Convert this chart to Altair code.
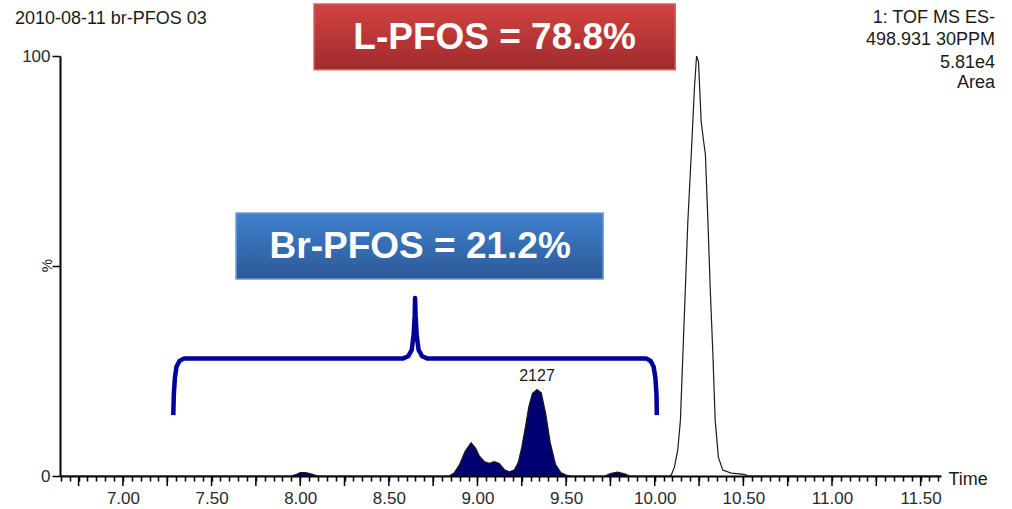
import altair as alt
import pandas as pd

# ---------------- data ----------------
times = [6.645, 7.95, 7.98, 8.00, 8.03, 8.06, 8.10, 8.84, 8.87, 8.90, 8.93, 8.964, 8.99,
         9.01, 9.04, 9.067, 9.095, 9.123, 9.152, 9.18, 9.208, 9.23, 9.25, 9.27, 9.29, 9.31,
         9.336, 9.36, 9.385, 9.41, 9.44, 9.47, 9.50, 9.53, 9.72, 9.75, 9.79, 9.83, 9.86,
         10.08, 10.093, 10.111, 10.130, 10.145, 10.159, 10.173, 10.187, 10.206, 10.224,
         10.236, 10.247, 10.262, 10.275, 10.286, 10.300, 10.313, 10.328, 10.341, 10.359,
         10.384, 10.431, 10.505, 10.53, 11.615]
intensity = [0, 0, 0.4, 0.8, 0.8, 0.5, 0, 0, 0.8, 2.8, 5.8, 7.9, 6.6,
             4.8, 3.4, 3.0, 3.4, 3.0, 1.5, 1.0, 1.4, 3.2, 6.8, 11.5, 16.5, 19.6,
             20.6, 19.8, 14.8, 8.0, 2.8, 0.8, 0.2, 0, 0, 0.6, 0.9, 0.5, 0,
             0, 0.2, 2.1, 6.2, 13.3, 29.1, 44.8, 60.7, 76.5, 92.3,
             100, 98.6, 84.4, 80.0, 76.5, 60.7, 44.8, 29.1, 13.3, 4.5,
             1.4, 0.7, 0.4, 0, 0]
branched_end = 10.0  # branched isomers (filled) elute before this time

peak_label_time = [9.336]
peak_label_value = [20.6]
peak_label_text = ["2127"]

# brace under the branched-isomer box (time, %)
brace_t = [7.284, 7.287, 7.293, 7.302, 7.319, 7.345, 8.581, 8.609, 8.629, 8.640, 8.646,
           8.648, 8.651, 8.657, 8.668, 8.688, 8.716, 9.952, 9.977, 9.994, 10.004, 10.010, 10.012]
brace_v = [14.5, 19.3, 23.3, 26.0, 27.4, 28.0, 28.0, 28.5, 30.0, 33.6, 38.3,
           42.4, 38.3, 33.6, 30.0, 28.5, 28.0, 28.0, 27.4, 26.0, 23.3, 19.3, 14.5]

# annotation boxes (time, %)
box_labels = ["L-PFOS = 78.8%", "Br-PFOS = 21.2%"]
box_t1 = [8.078, 7.638]
box_t2 = [10.116, 9.709]
box_v1 = [112.4, 62.6]
box_v2 = [96.7, 46.9]
box_tc = [9.097, 8.677]
box_vc = [104.3, 54.5]

header_left = ["2010-08-11 br-PFOS 03"]
header_right = ["1: TOF MS ES-", "498.931 30PPM", "5.81e4", "Area"]
header_right_v = [109.0, 103.8, 98.3, 93.6]  # line positions in % units

x_ticks = [round(6.65 + 0.05 * i, 2) for i in range(100)]
x_long_ticks = [round(6.75 + 0.25 * i, 2) for i in range(20)]
y_ticks = [0, 50, 100]

# ---------------- tables ----------------
trace = pd.DataFrame({"t": times, "v": intensity})
trace["fill"] = [v if t < branched_end else 0 for t, v in zip(times, intensity)]
peak_lab = pd.DataFrame({"t": peak_label_time, "v": peak_label_value, "txt": peak_label_text})
brace = pd.DataFrame({"t": brace_t, "v": brace_v, "o": list(range(len(brace_t)))})
boxes = pd.DataFrame({"label": box_labels, "t1": box_t1, "t2": box_t2,
                      "v1": box_v1, "v2": box_v2, "tc": box_tc, "vc": box_vc})
hl = pd.DataFrame({"txt": header_left})
hr = pd.DataFrame({"txt": header_right, "v": header_right_v})
longt = pd.DataFrame({"t": x_long_ticks})

FONT = "Liberation Sans"
xs = alt.Scale(domain=[6.645, 11.615], nice=False, zero=False)
ys = alt.Scale(domain=[0, 100], nice=False, zero=False)

x_axis = alt.Axis(
    values=x_ticks, title="Time", titleX=888, titleY=3, titleAlign="left",
    titleBaseline="middle", titleFontSize=18, titleFontWeight="normal",
    titleColor="#1a1a1a", titleFont=FONT,
    labelExpr="abs(datum.value*2 - round(datum.value*2)) < 0.001 ? format(datum.value, '.2f') : ''",
    labelOverlap=False,
    labelFontSize=17, labelFont=FONT, labelColor="#2a2a2a", labelPadding=9,
    tickSize=5, tickColor="black", tickWidth=1.5, domainColor="black", domainWidth=2, grid=False,
)
y_axis = alt.Axis(
    values=y_ticks, title="%", titleAngle=270, titleX=-14, titleY=209,
    titleAlign="center", titleBaseline="middle", titleFontSize=15,
    titleFontWeight="normal", titleColor="#1a1a1a", titleFont=FONT,
    labelExpr="datum.value == 50 ? '' : datum.label",
    labelFontSize=17, labelFont=FONT, labelColor="#2a2a2a", labelPadding=2,
    tickSize=8, tickColor="black", tickWidth=1.5, domainColor="black", domainWidth=2,
    grid=False,
)


def X(f):
    return alt.X(f, scale=xs, axis=x_axis)


def Y(f):
    return alt.Y(f, scale=ys, axis=y_axis)


filled = alt.Chart(trace).mark_area(color="#000070", interpolate="linear").encode(
    x=X("t:Q"), y=alt.Y("fill:Q", scale=ys, axis=y_axis, stack=None),
)
line = alt.Chart(trace).mark_line(color="#1a1a1a", strokeWidth=1.2).encode(
    x=X("t:Q"), y=Y("v:Q"),
)
long_ticks = alt.Chart(longt).mark_rule(color="black", strokeWidth=1.5).encode(
    x=X("t:Q"), y=alt.value(420), y2=alt.value(430),
)
plabel = alt.Chart(peak_lab).mark_text(font=FONT, fontSize=16, color="#1a1a1a", dy=-13).encode(
    x=X("t:Q"), y=Y("v:Q"), text="txt:N",
)
brace_line = alt.Chart(brace).mark_line(color="#00009c", strokeWidth=4.5, strokeJoin="round").encode(
    x=X("t:Q"), y=Y("v:Q"), order="o:Q",
)

red_grad = {"gradient": "linear", "x1": 0, "y1": 0, "x2": 0, "y2": 1,
            "stops": [{"offset": 0, "color": "#d24341"}, {"offset": 1, "color": "#9f2b2b"}]}
blue_grad = {"gradient": "linear", "x1": 0, "y1": 0, "x2": 0, "y2": 1,
             "stops": [{"offset": 0, "color": "#3f80cd"}, {"offset": 1, "color": "#2c5a98"}]}

red_box = alt.Chart(boxes.iloc[[0]]).mark_rect(fill=red_grad, stroke="#d66262", strokeWidth=1.5).encode(
    x=X("t1:Q"), x2="t2:Q", y=Y("v1:Q"), y2="v2:Q",
)
blue_box = alt.Chart(boxes.iloc[[1]]).mark_rect(fill=blue_grad, stroke="#6f9bd6", strokeWidth=1.5).encode(
    x=X("t1:Q"), x2="t2:Q", y=Y("v1:Q"), y2="v2:Q",
)
box_text = alt.Chart(boxes).mark_text(font=FONT, fontSize=37, fontWeight="bold", color="white",
                                      baseline="middle", align="center").encode(
    x=X("tc:Q"), y=Y("vc:Q"), text="label:N",
)

left_head = alt.Chart(hl).mark_text(font=FONT, fontSize=18, color="#1a1a1a", align="left",
                                    baseline="middle").encode(
    x=alt.value(-45), y=alt.value(-37), text="txt:N")
right_head = alt.Chart(hr).mark_text(font=FONT, fontSize=18, color="#1a1a1a", align="right",
                                     baseline="middle").encode(
    x=alt.value(935), y=Y("v:Q"), text="txt:N")

chart = alt.layer(
    filled, line, long_ticks, plabel, brace_line, red_box, blue_box, box_text, left_head, right_head
).properties(
    width=881, height=420,
    padding={"left": 60, "top": 56, "right": 71, "bottom": 33},
    autosize=alt.AutoSizeParams(type="none"),
    background="white",
).configure_view(stroke=None)

chart.save("out.html", embed_options={"renderer": "svg", "actions": False})
